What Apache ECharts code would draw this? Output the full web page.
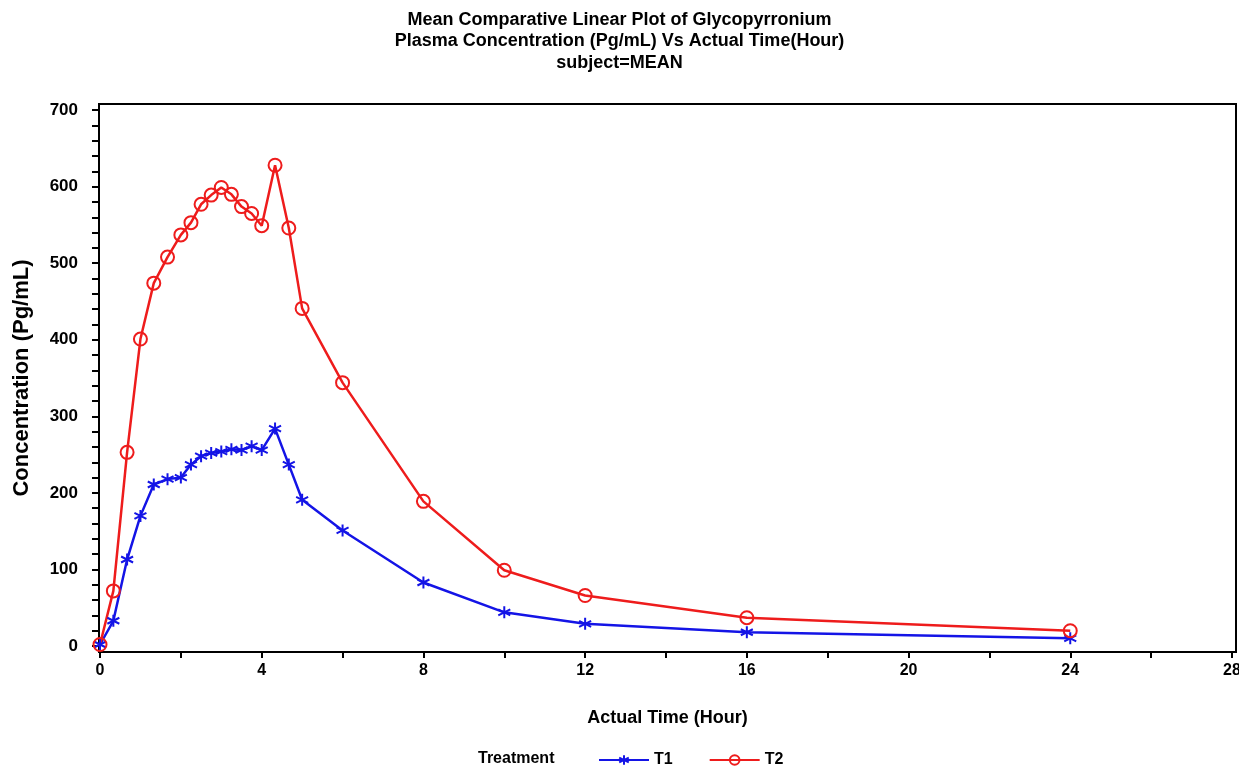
<!DOCTYPE html>
<html>
<head>
<meta charset="utf-8">
<script src="https://cdn.jsdelivr.net/npm/echarts@6/dist/echarts.min.js"></script>
<style>
html, body { margin: 0; padding: 0; background: #fff; }
#main { width: 1239px; height: 769px; }
</style>
</head>
<body>
<div id="main"></div>
<script>
// sampling times (hour)
var times = [0, 0.33, 0.67, 1, 1.33, 1.67, 2, 2.25, 2.5, 2.75, 3, 3.25, 3.5, 3.75, 4, 4.33, 4.67, 5, 6, 8, 10, 12, 16, 24];
// mean concentration (pg/mL)
var t1Values = [2, 33, 113, 170, 211, 218, 220, 237, 248, 252, 254, 257, 256, 261, 256, 284, 237, 191, 151, 83, 44, 29, 18, 10];
var t2Values = [2, 72, 253, 401, 474, 508, 537, 553, 577, 589, 599, 590, 574, 565, 549, 628, 546, 441, 344, 189, 99, 66, 37, 20];
var seriesNames = ['T1', 'T2'];
var xLabels = [0, 4, 8, 12, 16, 20, 24, 28];
var xTickVals = [0, 2, 4, 6, 8, 10, 12, 14, 16, 18, 20, 22, 24, 26, 28];
var yLabels = [0, 100, 200, 300, 400, 500, 600, 700];
var yTickVals = [];
for (var v = 0; v <= 700; v += 20) yTickVals.push(v);

function pairs(xs, ys) {
  var out = [];
  for (var i = 0; i < xs.length; i++) out.push([xs[i], ys[i]]);
  return out;
}

var fontFam = '"Liberation Sans", Arial, sans-serif';
var starPath = 'path://M0,-6L0,6M-5.2,-3L5.2,3M-5.2,3L5.2,-3';
var blue = '#1414e6';
var red = '#ee1c1c';

var chart = echarts.init(document.getElementById('main'));
var option = {
  backgroundColor: '#fff',
  animation: false,
  title: {
    text: 'Mean Comparative Linear Plot of Glycopyrronium\nPlasma Concentration (Pg/mL) Vs Actual Time(Hour)\nsubject=MEAN',
    left: 'center',
    top: 4,
    textStyle: { fontFamily: fontFam, fontSize: 18, fontWeight: 'bold', color: '#000', lineHeight: 21.5 }
  },
  graphic: [{
    type: 'text',
    left: 478,
    top: 751,
    style: { text: 'Treatment', fontFamily: fontFam, fontSize: 16, fontWeight: 'bold', fill: '#000' }
  }],
  legend: {
    data: seriesNames,
    left: 593,
    top: 747,
    itemWidth: 50,
    itemHeight: 12,
    itemGap: 36,
    textStyle: { fontFamily: fontFam, fontSize: 16, fontWeight: 'bold', color: '#000' }
  },
  grid: {
    left: 99,
    right: 3,
    top: 104,
    bottom: 117,
    outerBoundsMode: 'none',
    show: true,
    borderColor: '#000',
    borderWidth: 2
  },
  xAxis: {
    type: 'value',
    min: -0.025,
    max: 28.1,
    name: 'Actual Time (Hour)',
    nameLocation: 'middle',
    nameGap: 57,
    nameTextStyle: { fontFamily: fontFam, fontSize: 18, fontWeight: 'bold', color: '#000' },
    axisLine: { onZero: false, lineStyle: { color: '#000', width: 2 } },
    axisTick: { show: true, length: 6, customValues: xTickVals, lineStyle: { color: '#000', width: 2 } },
    axisLabel: { customValues: xLabels, fontFamily: fontFam, fontSize: 16, fontWeight: 'bold', color: '#000', margin: 11 },
    splitLine: { show: false }
  },
  yAxis: {
    type: 'value',
    min: -7.8,
    max: 708,
    name: 'Concentration (Pg/mL)',
    nameLocation: 'middle',
    nameGap: 66,
    nameTextStyle: { fontFamily: fontFam, fontSize: 22, fontWeight: 'bold', color: '#000' },
    axisLine: { show: true, onZero: false, lineStyle: { color: '#000', width: 2 } },
    axisTick: { show: true, length: 7, customValues: yTickVals, lineStyle: { color: '#000', width: 2 } },
    axisLabel: { customValues: yLabels, fontFamily: fontFam, fontSize: 17, fontWeight: 'bold', color: '#000', margin: 21 },
    splitLine: { show: false }
  },
  series: [{
    name: seriesNames[0],
    type: 'line',
    data: pairs(times, t1Values),
    symbol: starPath,
    symbolSize: 12,
    showAllSymbol: true,
    lineStyle: { color: blue, width: 2.5 },
    itemStyle: { color: blue, borderColor: blue, borderWidth: 2 }
  }, {
    name: seriesNames[1],
    type: 'line',
    data: pairs(times, t2Values),
    symbol: 'circle',
    symbolSize: 13,
    showAllSymbol: true,
    lineStyle: { color: red, width: 2.5 },
    itemStyle: { color: 'rgba(0,0,0,0)', borderColor: red, borderWidth: 2 }
  }]
};
chart.setOption(option);
</script>
</body>
</html>
